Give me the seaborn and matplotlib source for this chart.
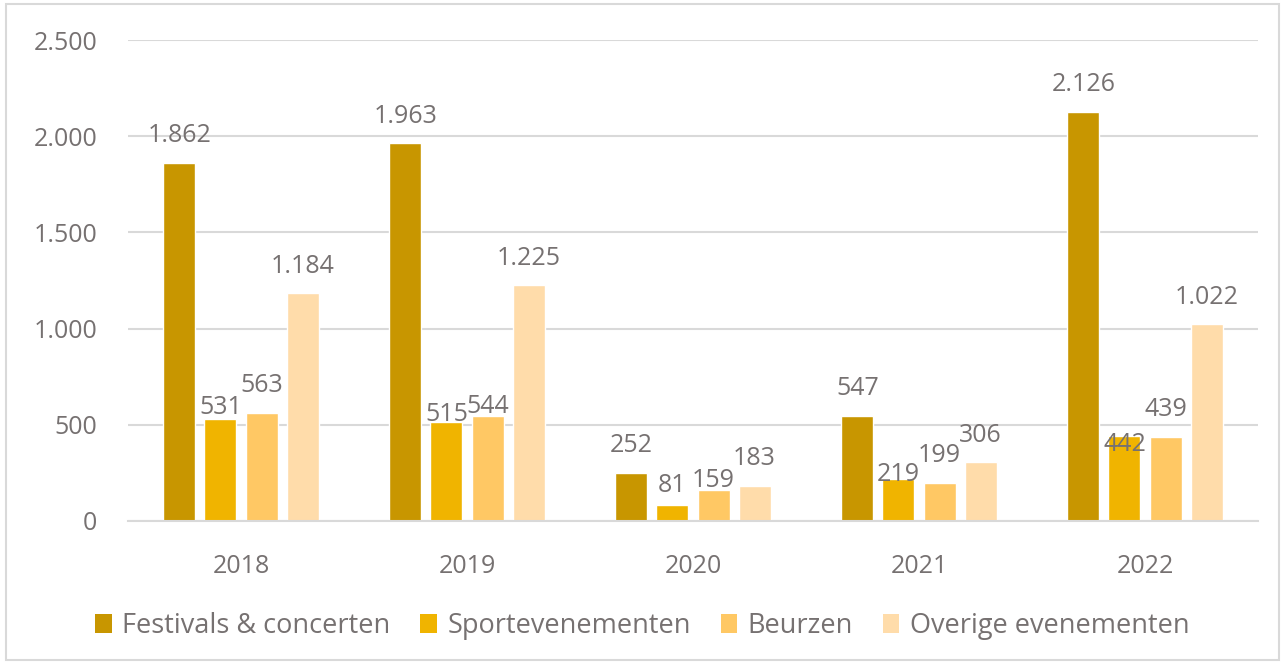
import matplotlib
matplotlib.use("Agg")
import matplotlib.pyplot as plt
import seaborn as sns
import pandas as pd
from matplotlib.patches import Rectangle, Patch

years = ["2018", "2019", "2020", "2021", "2022"]
series = ["Festivals & concerten", "Sportevenementen", "Beurzen", "Overige evenementen"]
festivals = [1862, 1963, 252, 547, 2126]
sport = [531, 515, 81, 219, 442]
beurzen = [563, 544, 159, 199, 439]
overige = [1184, 1225, 183, 306, 1022]
yticks = [0, 500, 1000, 1500, 2000, 2500]

colors = ["#C89600", "#F0B400", "#FFC864", "#FFDCAA"]
text_color = "#767171"
grid_color = "#D9D9D9"

rows = []
for name, vals in zip(series, [festivals, sport, beurzen, overige]):
    for y, v in zip(years, vals):
        rows.append({"Jaar": y, "Soort": name, "Aantal": v})
df = pd.DataFrame(rows)

sns.set_theme(style="white")
plt.rcParams["font.family"] = ["Open Sans", "DejaVu Sans"]

fig = plt.figure(figsize=(12.85, 6.64), dpi=100)
ax = fig.add_axes([128 / 1285, 1 - 521 / 664, 1130 / 1285, 481 / 664])

sns.barplot(data=df, x="Jaar", y="Aantal", hue="Soort", order=years,
            hue_order=series, palette=colors, width=0.726, gap=0.22,
            saturation=1, ax=ax, legend=False, errorbar=None)

ax.set_ylim(0, 2500)
ax.set_xlim(-0.5, len(years) - 0.5)
ax.set_yticks(yticks)
ax.set_yticklabels([f"{t:,}".replace(",", ".") for t in yticks])
ax.yaxis.grid(True, color=grid_color, linewidth=1.5)
ax.set_axisbelow(True)
for s in ["top", "right", "left"]:
    ax.spines[s].set_visible(False)
ax.spines["bottom"].set_color(grid_color)
ax.spines["bottom"].set_linewidth(1.5)
ax.set_xlabel("")
ax.set_ylabel("")
ax.tick_params(axis="y", length=0, pad=22, labelsize=18, labelcolor=text_color)
ax.tick_params(axis="x", length=0, pad=24, labelsize=18, labelcolor=text_color)

# label nudges in pixels (downward) for overlapping labels
nudge = {(0, 1): 16, (1, 1): 20, (1, 2): 17, (2, 1): 7, (2, 2): 17,
         (3, 1): 23, (4, 1): 36}
px = 72 / 100
for si, cont in enumerate(ax.containers):
    for yi, bar in enumerate(cont):
        v = bar.get_height()
        dy = 27 - nudge.get((yi, si), 0)
        ax.annotate(f"{int(round(v)):,}".replace(",", "."),
                    xy=(bar.get_x() + bar.get_width() / 2, v),
                    xytext=(0, dy * px), textcoords="offset points",
                    ha="center", va="center", fontsize=18, color=text_color)

handles = [Patch(facecolor=c, edgecolor="none", label=n) for c, n in zip(colors, series)]
fig.legend(handles=handles, loc="center", bbox_to_anchor=(0.5, 1 - 626 / 664),
           ncol=4, frameon=False, fontsize=19.5, labelcolor=text_color,
           handlelength=0.6, handleheight=0.7, handletextpad=0.4, columnspacing=1.1)

fig.patches.append(Rectangle((6 / 1285, 4 / 664), 1273 / 1285, 656 / 664,
                             transform=fig.transFigure, fill=False,
                             edgecolor="#D9D9D9", linewidth=1.5))

fig.savefig("out.png", dpi=100)
